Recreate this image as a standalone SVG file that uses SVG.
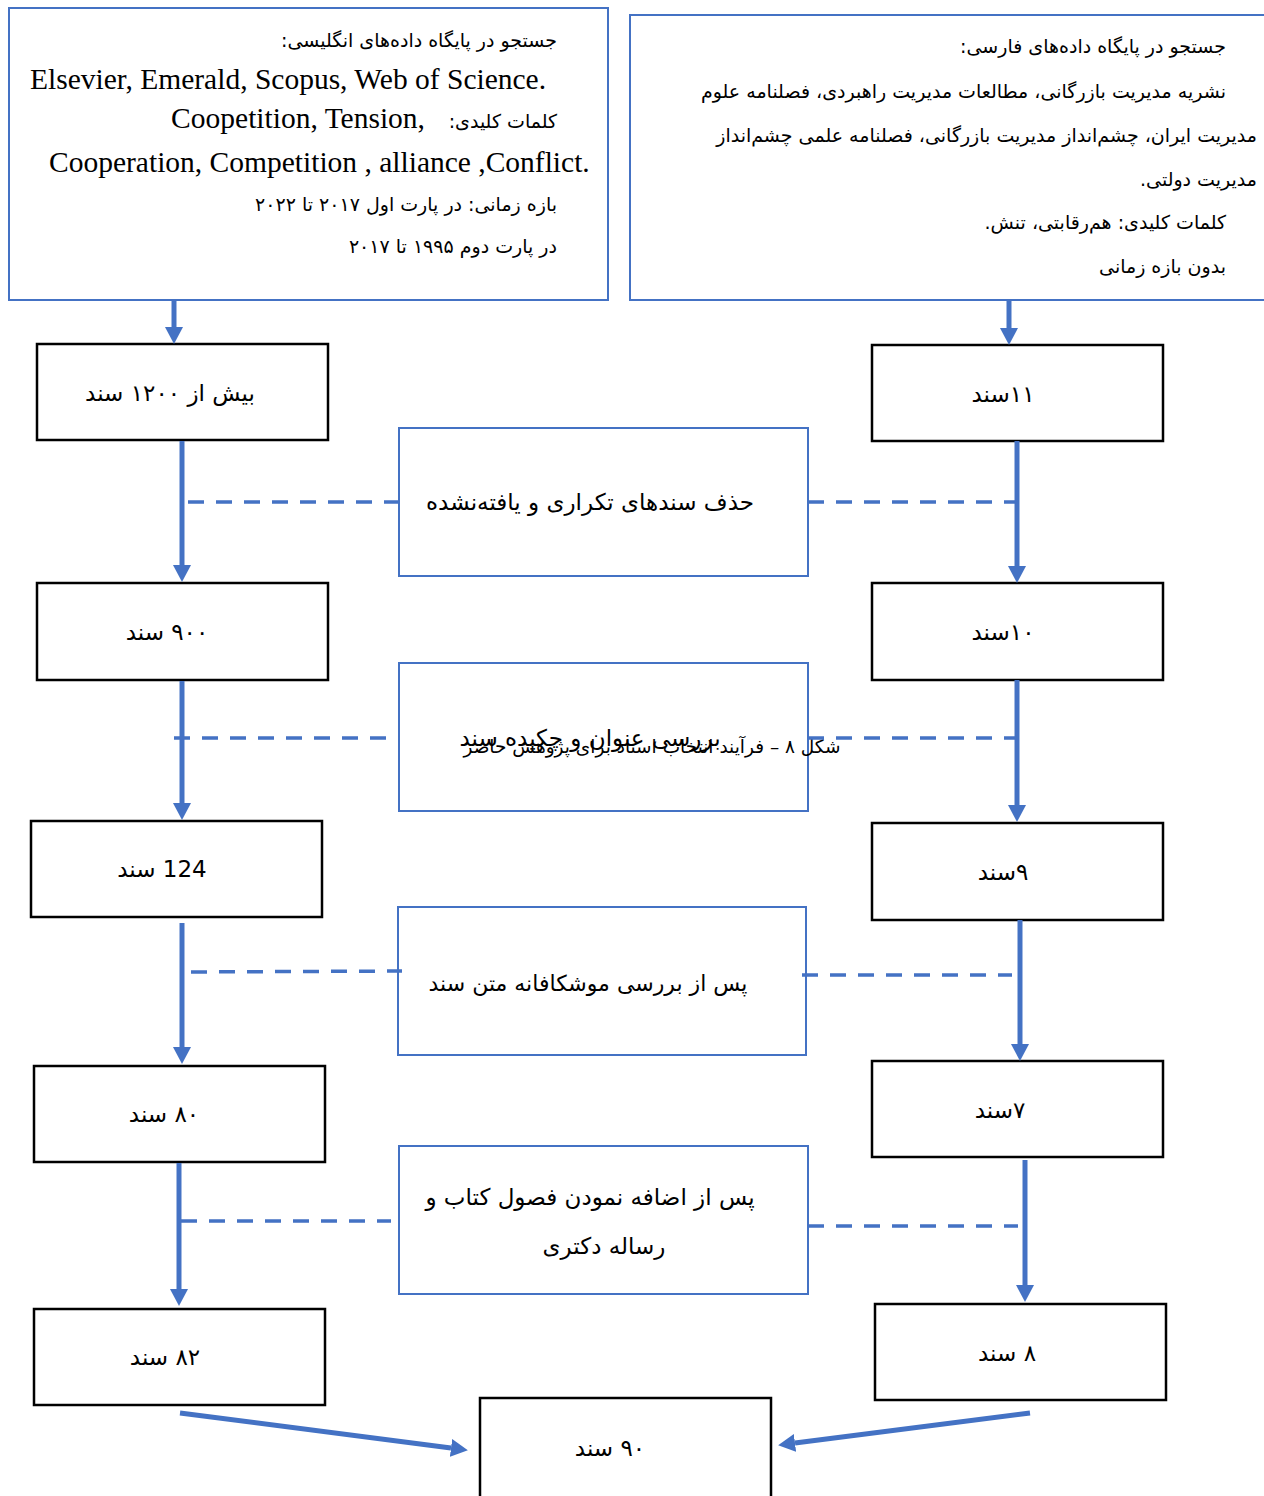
<svg xmlns="http://www.w3.org/2000/svg" width="1264" height="1496" viewBox="0 0 1264 1496">
<style>
.bg{fill:#ffffff}
.nb{fill:#ffffff;stroke:#000000;stroke-width:2.5}
.bb{fill:#ffffff;stroke:#4472C4;stroke-width:2}
.fa{font-family:"DejaVu Sans",sans-serif;font-size:19px;fill:#000000}
.fa2{font-family:"DejaVu Sans",sans-serif;font-size:23px;fill:#000000}
.fa3{font-family:"DejaVu Sans",sans-serif;font-size:22px;fill:#000000}
.cap{font-family:"DejaVu Sans",sans-serif;font-size:18.5px;fill:#000000}
.en{font-family:"Liberation Serif",serif;font-size:29.5px;fill:#000000}
.rtl{direction:rtl;unicode-bidi:embed}
.arr{stroke:#4472C4;stroke-width:5;fill:none}
.dash{stroke:#4472C4;stroke-width:3.5;stroke-dasharray:16 12;fill:none}
</style>
<defs>
<marker id="ah" markerUnits="userSpaceOnUse" markerWidth="18" markerHeight="18" refX="0" refY="9" orient="auto">
<path d="M0,0 L17,9 L0,18 z" fill="#4472C4"/>
</marker>
</defs>
<rect class="bg" x="0" y="0" width="1264" height="1496"/>

<g id="src-en">
<rect class="bb" x="9" y="8" width="599" height="292"/>
<text class="fa rtl" x="557" y="47" text-anchor="start">جستجو در پایگاه داده‌های انگلیسی:</text>
<text class="en" x="30" y="89">Elsevier, Emerald, Scopus, Web of Science.</text>
<text class="en" x="425" y="128" text-anchor="end">Coopetition, Tension,</text>
<text class="fa rtl" x="557" y="128" text-anchor="start">کلمات کلیدی:</text>
<text class="en" x="49" y="172">Cooperation, Competition , alliance ,Conflict.</text>
<text class="fa rtl" x="557" y="211" text-anchor="start">بازه زمانی: در پارت اول ۲۰۱۷ تا ۲۰۲۲</text>
<text class="fa rtl" x="557" y="253" text-anchor="start">در پارت دوم ۱۹۹۵ تا ۲۰۱۷</text>
</g>

<g id="src-fa">
<rect class="bb" x="630" y="15" width="640" height="285"/>
<text class="fa rtl" x="1226" y="53" text-anchor="start">جستجو در پایگاه داده‌های فارسی:</text>
<text class="fa rtl" x="1226" y="98" text-anchor="start">نشریه مدیریت بازرگانی، مطالعات مدیریت راهبردی، فصلنامه علوم</text>
<text class="fa rtl" x="1257" y="142" text-anchor="start">مدیریت ایران، چشم‌انداز مدیریت بازرگانی، فصلنامه علمی چشم‌انداز</text>
<text class="fa rtl" x="1257" y="186" text-anchor="start">مدیریت دولتی.</text>
<text class="fa rtl" x="1226" y="229" text-anchor="start">کلمات کلیدی: هم‌رقابتی، تنش.</text>
<text class="fa rtl" x="1226" y="273" text-anchor="start">بدون بازه زمانی</text>
</g>

<g id="l1"><rect class="nb" x="37" y="344" width="291" height="96"/><text class="fa2 rtl" x="170" y="401" text-anchor="middle">بیش از ۱۲۰۰ سند</text></g>
<g id="l2"><rect class="nb" x="37" y="583" width="291" height="97"/><text class="fa2 rtl" x="167" y="640" text-anchor="middle">۹۰۰ سند</text></g>
<g id="l3"><rect class="nb" x="31" y="821" width="291" height="96"/><text class="fa2 rtl" x="162" y="877" text-anchor="middle">124 سند</text></g>
<g id="l4"><rect class="nb" x="34" y="1066" width="291" height="96"/><text class="fa2 rtl" x="164" y="1122" text-anchor="middle">۸۰ سند</text></g>
<g id="l5"><rect class="nb" x="34" y="1309" width="291" height="96"/><text class="fa2 rtl" x="165" y="1365" text-anchor="middle">۸۲ سند</text></g>

<g id="r1"><rect class="nb" x="872" y="345" width="291" height="96"/><text class="fa2 rtl" x="1003" y="402" text-anchor="middle">۱۱سند</text></g>
<g id="r2"><rect class="nb" x="872" y="583" width="291" height="97"/><text class="fa2 rtl" x="1003" y="640" text-anchor="middle">۱۰سند</text></g>
<g id="r3"><rect class="nb" x="872" y="823" width="291" height="97"/><text class="fa2 rtl" x="1003" y="880" text-anchor="middle">۹سند</text></g>
<g id="r4"><rect class="nb" x="872" y="1061" width="291" height="96"/><text class="fa2 rtl" x="1000" y="1118" text-anchor="middle">۷سند</text></g>
<g id="r5"><rect class="nb" x="875" y="1304" width="291" height="96"/><text class="fa2 rtl" x="1007" y="1361" text-anchor="middle">۸ سند</text></g>

<g id="total"><rect class="nb" x="480" y="1398" width="291" height="110"/><text class="fa2 rtl" x="610" y="1456" text-anchor="middle">۹۰ سند</text></g>

<g id="f1"><rect class="bb" x="399" y="428" width="409" height="148"/><text class="fa2 rtl" x="590" y="510" text-anchor="middle">حذف سندهای تکراری و یافته‌نشده</text></g>
<g id="f2"><rect class="bb" x="399" y="663" width="409" height="148"/><text class="fa2 rtl" x="590" y="746" text-anchor="middle">بررسی عنوان و چکیده سند</text><text class="cap rtl" x="652" y="753" text-anchor="middle">شکل ۸ – فرآیند انتخاب اسناد برای پژوهش حاضر</text></g>
<g id="f3"><rect class="bb" x="398" y="907" width="408" height="148"/><text class="fa3 rtl" x="588" y="991" text-anchor="middle">پس از بررسی موشکافانه متن سند</text></g>
<g id="f4"><rect class="bb" x="399" y="1146" width="409" height="148"/><text class="fa2 rtl" x="590" y="1205" text-anchor="middle">پس از اضافه نمودن فصول کتاب و</text><text class="fa2 rtl" x="604" y="1254" text-anchor="middle">رساله دکتری</text></g>

<g id="connectors">
<line class="arr" x1="174" y1="300" x2="174" y2="327" marker-end="url(#ah)"/>
<line class="arr" x1="1009" y1="300" x2="1009" y2="328" marker-end="url(#ah)"/>
<line class="arr" x1="182" y1="441" x2="182" y2="565" marker-end="url(#ah)"/>
<line class="arr" x1="182" y1="681" x2="182" y2="803" marker-end="url(#ah)"/>
<line class="arr" x1="182" y1="923" x2="182" y2="1047" marker-end="url(#ah)"/>
<line class="arr" x1="179" y1="1163" x2="179" y2="1289" marker-end="url(#ah)"/>
<line class="arr" x1="1017" y1="441" x2="1017" y2="566" marker-end="url(#ah)"/>
<line class="arr" x1="1017" y1="680" x2="1017" y2="805" marker-end="url(#ah)"/>
<line class="arr" x1="1020" y1="920" x2="1020" y2="1044" marker-end="url(#ah)"/>
<line class="arr" x1="1025" y1="1160" x2="1025" y2="1285" marker-end="url(#ah)"/>
<line class="arr" x1="180" y1="1413" x2="451" y2="1448" marker-end="url(#ah)"/>
<line class="arr" x1="1030" y1="1413" x2="795" y2="1443" marker-end="url(#ah)"/>
<line class="dash" x1="188" y1="502" x2="399" y2="502"/>
<line class="dash" x1="808" y1="502" x2="1017" y2="502"/>
<line class="dash" x1="174" y1="738" x2="399" y2="738"/>
<line class="dash" x1="808" y1="738" x2="1017" y2="738"/>
<line class="dash" x1="191" y1="972" x2="402" y2="971"/>
<line class="dash" x1="802" y1="975" x2="1012" y2="975"/>
<line class="dash" x1="181" y1="1221" x2="391" y2="1221"/>
<line class="dash" x1="808" y1="1226" x2="1018" y2="1226"/>
</g>
</svg>
